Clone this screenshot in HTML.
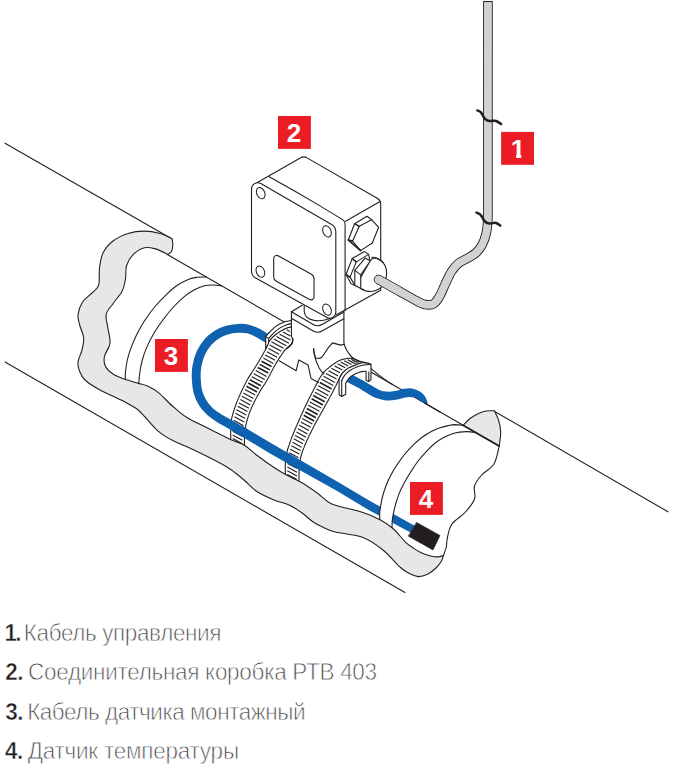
<!DOCTYPE html>
<html lang="ru">
<head>
<meta charset="utf-8">
<title>Схема монтажа датчика температуры</title>
<style>
html,body{margin:0;padding:0;background:#fff;}
body{width:676px;height:773px;position:relative;overflow:hidden;font-family:"Liberation Sans",sans-serif;}
svg{position:absolute;left:0;top:0;display:block;}
.lbl{font-family:"Liberation Sans",sans-serif;font-weight:bold;font-size:26px;fill:#fff;text-anchor:middle;}
ol{list-style:none;margin:0;padding:0;}
li{position:absolute;left:0;width:676px;height:40px;font-size:22.5px;line-height:40px;color:#454548;white-space:nowrap;}
li b,li span{position:absolute;top:0;display:block;transform:scaleY(1.1);transform-origin:0 27.6px;}
li span{-webkit-text-stroke:0.7px #fff;}
li b{color:#231f20;font-weight:bold;-webkit-text-stroke:0.45px #fff;}
</style>
</head>
<body>
<svg width="676" height="773" viewBox="0 0 676 773" stroke-linecap="round" stroke-linejoin="round">
<path d="M5 143.3L172.1 238.9" fill="none" stroke="#231f20" stroke-width="1.1" />
<path d="M5 362L405 592.5" fill="none" stroke="#231f20" stroke-width="1.1" />
<path d="M494.3 411.2L668 511.8" fill="none" stroke="#231f20" stroke-width="1.1" />
<path d="M167.7 254.7L286 323" fill="none" stroke="#231f20" stroke-width="1.1" />
<path d="M366 369.2L499.2 446" fill="none" stroke="#231f20" stroke-width="1.1" />
<path d="M206.5 277C204.9 277.1 199.9 276.9 197 277.3C194.1 277.7 192.1 277.9 188.8 279.3C185.5 280.7 180.7 283 177 285.5C173.3 288 170.3 290.8 166.6 294.3C162.9 297.8 158.7 302.1 155 306.5C151.3 310.9 147.4 316.4 144.4 321C141.4 325.6 139.2 329.6 137 334C134.8 338.4 132.7 343.3 131.1 347.6C129.5 351.9 128.2 355.9 127.3 360C126.4 364.1 125.8 368.8 125.5 372C125.2 375.2 125.3 378.1 125.3 379.3" fill="none" stroke="#231f20" stroke-width="1.1" />
<path d="M222 286C220.5 285.8 215.9 285 213 285C210.1 285 207.5 285 204.3 285.8C201.1 286.6 197.3 288.2 194 290C190.7 291.8 187.8 293.7 184.3 296.6C180.8 299.5 176.7 303.4 173 307.5C169.3 311.6 165.3 316.6 162.1 321C158.8 325.4 156.1 329.6 153.5 334C150.9 338.4 148.5 343.3 146.6 347.6C144.7 351.9 143.4 355.9 142.3 360C141.2 364.1 140.5 368.1 139.9 372C139.3 375.9 139 381.4 138.8 383.3" fill="none" stroke="#231f20" stroke-width="1.1" />
<path d="M291.6 326.8L291.4 326.8L291.2 326.9L291 326.9L290.8 327L290.5 327L290.2 327L289.9 327.1L289.6 327.2L289.2 327.2L288.9 327.3L288.5 327.4L288.2 327.5L287.8 327.6L287.5 327.7L287.1 327.8L286.8 327.9L286.5 328L286.1 328.2L285.8 328.3L285.4 328.5L285.1 328.6L284.7 328.8L284.3 329L284 329.2L283.6 329.4L283.2 329.6L282.8 329.8L282.5 330L282.1 330.2L281.7 330.4L281.3 330.7L280.9 330.9L280.5 331.1L280.1 331.4L279.7 331.7L279.3 331.9L278.8 332.2L278.4 332.5L278 332.8L277.5 333.1L277.1 333.4L276.7 333.7L276.2 334.1L275.8 334.4L275.4 334.7L275 335L274.6 335.4L274.2 335.7L273.8 336L273.4 336.4L273.1 336.7L272.7 337.1L272.3 337.4L271.9 337.8L271.6 338.1L271.2 338.5L270.9 338.9L270.5 339.2L270.2 339.6L269.9 340L269.6 340.4L269.3 340.8L269 341.2L268.7 341.6L268.5 342L268.2 342.4L268 342.8L267.9 343.2L267.7 343.6L267.6 344L267.5 344.4L267.3 344.8L267.2 345.3L267 345.7L266.9 346.2L266.7 346.7L266.5 347.2L266.3 347.8L266 348.4L265.7 349L265.4 349.7L265 350.4L264.6 351.2L264.1 352L263.7 352.8L263.2 353.7L262.7 354.6L262.2 355.5L261.7 356.4L261.2 357.3L260.6 358.2L260.1 359L259.7 359.9L259.2 360.7L258.7 361.5L258.3 362.2L257.9 362.9L257.5 363.6L257.1 364.2L256.7 364.8L256.4 365.4L256 366L255.6 366.6L255.3 367.1L254.9 367.7L254.6 368.2L254.2 368.8L253.9 369.3L253.5 369.9L253.2 370.4L252.8 370.9L252.5 371.5L252.2 372L251.8 372.6L251.5 373.1L251.2 373.6L250.8 374.1L250.5 374.6L250.2 375.1L249.9 375.6L249.5 376.1L249.2 376.6L248.9 377.1L248.6 377.7L248.2 378.2L247.9 378.8L247.5 379.4L247.2 380L246.8 380.6L246.5 381.3L246.1 382L245.7 382.7L245.4 383.4L245 384.2L244.6 384.9L244.2 385.7L243.9 386.5L243.5 387.2L243.1 388L242.7 388.8L242.4 389.5L242 390.3L241.6 391.1L241.3 391.8L241 392.5L240.6 393.3L240.3 394L240 394.8L239.6 395.5L239.3 396.2L239 397L238.7 397.7L238.3 398.4L238 399.2L237.7 399.9L237.4 400.6L237.1 401.4L236.9 402.1L236.6 402.8L236.3 403.5L236 404.2L235.8 404.9L235.5 405.6L235.3 406.3L235 407L234.8 407.7L234.5 408.4L234.3 409.1L234.1 409.8L233.9 410.5L233.6 411.2L233.4 411.8L233.2 412.5L233.1 413.1L232.9 413.8L232.7 414.4L232.5 415L232.4 415.6L232.2 416.2L232.1 416.8L232 417.3L231.8 417.9L231.7 418.4L231.6 419L231.5 419.5L231.4 420L231.3 420.6L231.2 421.1L231.1 421.7L231 422.3L231 422.9L230.9 423.5L230.8 424.1L230.8 424.8L230.8 425.4L230.7 426.1L230.7 426.8L230.7 427.5L230.7 428.2L230.7 428.9L230.7 429.6L230.7 430.3L230.7 430.9L230.7 431.6L230.7 432.3L230.7 433L230.7 433.7L230.7 434.3L230.7 435L230.7 435.6L230.7 436.3L230.7 437L230.7 437.7L230.7 438.4L230.7 439.1L230.7 439.8L230.7 440.5L230.7 441.1L230.7 441.7L230.7 442.3L230.7 442.8L230.7 443.3L230.7 443.7L230.7 444L244.5 449L244.5 448.6L244.5 448.1L244.5 447.6L244.5 447L244.5 446.3L244.5 445.6L244.5 444.8L244.5 444.1L244.5 443.3L244.4 442.5L244.4 441.7L244.5 440.9L244.5 440.1L244.5 439.4L244.5 438.7L244.5 438L244.5 437.4L244.5 436.8L244.6 436.2L244.6 435.6L244.6 435L244.7 434.4L244.7 433.9L244.7 433.3L244.8 432.8L244.8 432.2L244.9 431.7L244.9 431.1L245 430.6L245 430L245.1 429.5L245.2 428.9L245.3 428.3L245.4 427.8L245.5 427.2L245.6 426.6L245.7 426.1L245.8 425.5L245.9 425L246 424.4L246.2 423.8L246.3 423.3L246.5 422.7L246.6 422.2L246.7 421.6L246.9 421L247 420.5L247.2 419.9L247.4 419.3L247.5 418.8L247.7 418.2L247.9 417.7L248 417.1L248.2 416.6L248.4 416L248.6 415.5L248.8 414.9L248.9 414.3L249.2 413.8L249.4 413.2L249.6 412.6L249.8 412L250.1 411.4L250.3 410.8L250.6 410.2L250.8 409.5L251.1 408.9L251.4 408.2L251.7 407.5L252 406.8L252.3 406.1L252.7 405.4L253 404.7L253.3 404L253.6 403.3L254 402.6L254.3 401.9L254.6 401.2L255 400.6L255.3 399.9L255.6 399.3L256 398.6L256.3 398L256.6 397.4L257 396.7L257.3 396.1L257.6 395.5L258 394.9L258.3 394.3L258.7 393.7L259 393.1L259.4 392.5L259.7 391.8L260.1 391.2L260.4 390.6L260.8 390L261.2 389.4L261.5 388.8L261.9 388.2L262.3 387.6L262.7 387L263.1 386.4L263.5 385.8L263.9 385.2L264.3 384.6L264.7 384L265.1 383.3L265.5 382.7L265.9 382.1L266.3 381.4L266.7 380.7L267.1 380L267.5 379.3L267.9 378.5L268.4 377.7L268.8 376.9L269.2 376.1L269.7 375.2L270.1 374.4L270.6 373.5L271 372.6L271.4 371.8L271.9 371L272.3 370.1L272.7 369.3L273.1 368.6L273.5 367.8L273.9 367.1L274.3 366.4L274.7 365.8L275 365.1L275.4 364.5L275.7 363.9L276.1 363.3L276.4 362.7L276.8 362.2L277.1 361.6L277.4 361.1L277.7 360.5L278.1 360L278.4 359.5L278.7 358.9L279.1 358.4L279.4 357.9L279.7 357.4L280.1 356.9L280.4 356.3L280.8 355.8L281.1 355.3L281.5 354.8L281.8 354.3L282.2 353.8L282.5 353.3L282.8 352.9L283.2 352.4L283.5 352L283.8 351.6L284.1 351.2L284.3 350.8L284.6 350.5L284.8 350.2L285.1 349.9L285.3 349.7L285.5 349.5L285.6 349.3L285.8 349.1L286 348.9L286.1 348.8L286.3 348.6L286.4 348.5L286.6 348.3L286.8 348.2L286.9 348L287.1 347.9L287.3 347.7L287.5 347.5L287.7 347.3L288 347.1L288.2 346.9L288.5 346.6L288.7 346.4L289 346.2L289.3 346L289.6 345.7L289.8 345.5L290.1 345.3L290.3 345L290.6 344.8L290.8 344.5L291 344.3L291.2 344L291.4 343.8L291.6 343.6L291.7 343.3L291.8 343.1L292 342.8L292.1 342.6L292.2 342.3L292.3 342.1L292.3 341.8L292.4 341.6L292.5 341.3L292.5 341L292.6 340.7L292.6 340.5L292.7 340.1L292.7 339.8L292.7 339.5L292.7 339.2L292.7 338.8L292.7 338.4L292.6 338L292.6 337.6L292.5 337.2L292.4 336.8L292.3 336.4L292.3 335.9L292.2 335.5L292.1 335.1L292 334.7L292 334.2L291.9 333.8L291.8 333.4L291.8 333L291.8 332.6L291.7 332.2L291.7 331.7L291.7 331.3L291.7 330.8L291.7 330.4L291.7 329.9L291.6 329.5L291.6 329.1L291.6 328.7L291.6 328.3L291.6 327.9L291.6 327.6L291.6 327.3L291.6 327L291.6 326.8Z" fill="#fff" stroke="none"/>
<path d="M291.6 326.8L291.4 326.8L291.2 326.9L291 326.9L290.8 327L290.5 327L290.2 327L289.9 327.1L289.6 327.2L289.2 327.2L288.9 327.3L288.5 327.4L288.2 327.5L287.8 327.6L287.5 327.7L287.1 327.8L286.8 327.9L286.5 328L286.1 328.2L285.8 328.3L285.4 328.5L285.1 328.6L284.7 328.8L284.3 329L284 329.2L283.6 329.4L283.2 329.6L282.8 329.8L282.5 330L282.1 330.2L281.7 330.4L281.3 330.7L280.9 330.9L280.5 331.1L280.1 331.4L279.7 331.7L279.3 331.9L278.8 332.2L278.4 332.5L278 332.8L277.5 333.1L277.1 333.4L276.7 333.7L276.2 334.1L275.8 334.4L275.4 334.7L275 335L274.6 335.4L274.2 335.7L273.8 336L273.4 336.4L273.1 336.7L272.7 337.1L272.3 337.4L271.9 337.8L271.6 338.1L271.2 338.5L270.9 338.9L270.5 339.2L270.2 339.6L269.9 340L269.6 340.4L269.3 340.8L269 341.2L268.7 341.6L268.5 342L268.2 342.4L268 342.8L267.9 343.2L267.7 343.6L267.6 344L267.5 344.4L267.3 344.8L267.2 345.3L267 345.7L266.9 346.2L266.7 346.7L266.5 347.2L266.3 347.8L266 348.4L265.7 349L265.4 349.7L265 350.4L264.6 351.2L264.1 352L263.7 352.8L263.2 353.7L262.7 354.6L262.2 355.5L261.7 356.4L261.2 357.3L260.6 358.2L260.1 359L259.7 359.9L259.2 360.7L258.7 361.5L258.3 362.2L257.9 362.9L257.5 363.6L257.1 364.2L256.7 364.8L256.4 365.4L256 366L255.6 366.6L255.3 367.1L254.9 367.7L254.6 368.2L254.2 368.8L253.9 369.3L253.5 369.9L253.2 370.4L252.8 370.9L252.5 371.5L252.2 372L251.8 372.6L251.5 373.1L251.2 373.6L250.8 374.1L250.5 374.6L250.2 375.1L249.9 375.6L249.5 376.1L249.2 376.6L248.9 377.1L248.6 377.7L248.2 378.2L247.9 378.8L247.5 379.4L247.2 380L246.8 380.6L246.5 381.3L246.1 382L245.7 382.7L245.4 383.4L245 384.2L244.6 384.9L244.2 385.7L243.9 386.5L243.5 387.2L243.1 388L242.7 388.8L242.4 389.5L242 390.3L241.6 391.1L241.3 391.8L241 392.5L240.6 393.3L240.3 394L240 394.8L239.6 395.5L239.3 396.2L239 397L238.7 397.7L238.3 398.4L238 399.2L237.7 399.9L237.4 400.6L237.1 401.4L236.9 402.1L236.6 402.8L236.3 403.5L236 404.2L235.8 404.9L235.5 405.6L235.3 406.3L235 407L234.8 407.7L234.5 408.4L234.3 409.1L234.1 409.8L233.9 410.5L233.6 411.2L233.4 411.8L233.2 412.5L233.1 413.1L232.9 413.8L232.7 414.4L232.5 415L232.4 415.6L232.2 416.2L232.1 416.8L232 417.3L231.8 417.9L231.7 418.4L231.6 419L231.5 419.5L231.4 420L231.3 420.6L231.2 421.1L231.1 421.7L231 422.3L231 422.9L230.9 423.5L230.8 424.1L230.8 424.8L230.8 425.4L230.7 426.1L230.7 426.8L230.7 427.5L230.7 428.2L230.7 428.9L230.7 429.6L230.7 430.3L230.7 430.9L230.7 431.6L230.7 432.3L230.7 433L230.7 433.7L230.7 434.3L230.7 435L230.7 435.6L230.7 436.3L230.7 437L230.7 437.7L230.7 438.4L230.7 439.1L230.7 439.8L230.7 440.5L230.7 441.1L230.7 441.7L230.7 442.3L230.7 442.8L230.7 443.3L230.7 443.7L230.7 444" fill="none" stroke="#231f20" stroke-width="1.1" />
<path d="M291.6 326.8L291.6 327L291.6 327.3L291.6 327.6L291.6 327.9L291.6 328.3L291.6 328.7L291.6 329.1L291.6 329.5L291.7 329.9L291.7 330.4L291.7 330.8L291.7 331.3L291.7 331.7L291.7 332.2L291.8 332.6L291.8 333L291.8 333.4L291.9 333.8L292 334.2L292 334.7L292.1 335.1L292.2 335.5L292.3 335.9L292.3 336.4L292.4 336.8L292.5 337.2L292.6 337.6L292.6 338L292.7 338.4L292.7 338.8L292.7 339.2L292.7 339.5L292.7 339.8L292.7 340.1L292.6 340.5L292.6 340.7L292.5 341L292.5 341.3L292.4 341.6L292.3 341.8L292.3 342.1L292.2 342.3L292.1 342.6L292 342.8L291.8 343.1L291.7 343.3L291.6 343.6L291.4 343.8L291.2 344L291 344.3L290.8 344.5L290.6 344.8L290.3 345L290.1 345.3L289.8 345.5L289.6 345.7L289.3 346L289 346.2L288.7 346.4L288.5 346.6L288.2 346.9L288 347.1L287.7 347.3L287.5 347.5L287.3 347.7L287.1 347.9L286.9 348L286.8 348.2L286.6 348.3L286.4 348.5L286.3 348.6L286.1 348.8L286 348.9L285.8 349.1L285.6 349.3L285.5 349.5L285.3 349.7L285.1 349.9L284.8 350.2L284.6 350.5L284.3 350.8L284.1 351.2L283.8 351.6L283.5 352L283.2 352.4L282.8 352.9L282.5 353.3L282.2 353.8L281.8 354.3L281.5 354.8L281.1 355.3L280.8 355.8L280.4 356.3L280.1 356.9L279.7 357.4L279.4 357.9L279.1 358.4L278.7 358.9L278.4 359.5L278.1 360L277.7 360.5L277.4 361.1L277.1 361.6L276.8 362.2L276.4 362.7L276.1 363.3L275.7 363.9L275.4 364.5L275 365.1L274.7 365.8L274.3 366.4L273.9 367.1L273.5 367.8L273.1 368.6L272.7 369.3L272.3 370.1L271.9 371L271.4 371.8L271 372.6L270.6 373.5L270.1 374.4L269.7 375.2L269.2 376.1L268.8 376.9L268.4 377.7L267.9 378.5L267.5 379.3L267.1 380L266.7 380.7L266.3 381.4L265.9 382.1L265.5 382.7L265.1 383.3L264.7 384L264.3 384.6L263.9 385.2L263.5 385.8L263.1 386.4L262.7 387L262.3 387.6L261.9 388.2L261.5 388.8L261.2 389.4L260.8 390L260.4 390.6L260.1 391.2L259.7 391.8L259.4 392.5L259 393.1L258.7 393.7L258.3 394.3L258 394.9L257.6 395.5L257.3 396.1L257 396.7L256.6 397.4L256.3 398L256 398.6L255.6 399.3L255.3 399.9L255 400.6L254.6 401.2L254.3 401.9L254 402.6L253.6 403.3L253.3 404L253 404.7L252.7 405.4L252.3 406.1L252 406.8L251.7 407.5L251.4 408.2L251.1 408.9L250.8 409.5L250.6 410.2L250.3 410.8L250.1 411.4L249.8 412L249.6 412.6L249.4 413.2L249.2 413.8L248.9 414.3L248.8 414.9L248.6 415.5L248.4 416L248.2 416.6L248 417.1L247.9 417.7L247.7 418.2L247.5 418.8L247.4 419.3L247.2 419.9L247 420.5L246.9 421L246.7 421.6L246.6 422.2L246.5 422.7L246.3 423.3L246.2 423.8L246 424.4L245.9 425L245.8 425.5L245.7 426.1L245.6 426.6L245.5 427.2L245.4 427.8L245.3 428.3L245.2 428.9L245.1 429.5L245 430L245 430.6L244.9 431.1L244.9 431.7L244.8 432.2L244.8 432.8L244.7 433.3L244.7 433.9L244.7 434.4L244.6 435L244.6 435.6L244.6 436.2L244.5 436.8L244.5 437.4L244.5 438L244.5 438.7L244.5 439.4L244.5 440.1L244.5 440.9L244.4 441.7L244.4 442.5L244.5 443.3L244.5 444.1L244.5 444.8L244.5 445.6L244.5 446.3L244.5 447L244.5 447.6L244.5 448.1L244.5 448.6L244.5 449" fill="none" stroke="#231f20" stroke-width="1.1" />
<path d="M286.8 329.8L289.7 331.4M283 331.9L290.4 335.9M279.6 334.2L290.5 340.1M276.5 336.6L288.9 343.3M273.8 339L286.2 345.7M271.4 341.7L283.5 348.3M269.7 344.9L281.3 351.2M268.5 348.4L279.1 354.2M266.9 351.7L277.1 357.2M265.1 354.9L275.2 360.3M263.3 358.1L273.3 363.5M255.8 370.6L266.5 376.4M253.8 373.7L264.7 379.5M251.8 376.7L262.8 382.6M244.9 389.6L255.2 395.1M243.3 392.9L253.5 398.4M241.8 396.2L251.9 401.6M240.4 399.5L250.3 404.9M239 402.9L248.9 408.3M237.7 406.3L247.5 411.6M236.5 409.8L246.3 415.1M235.4 413.3L245.2 418.6M234.4 416.8L244.3 422.1M233.6 420.3L243.5 425.7M233 423.9L243 429.3M232.7 427.6L242.7 432.9M232.7 431.2L242.5 436.5M232.7 434.9L242.4 440.2M232.7 438.6L242.4 443.8M232.7 442.2L242.5 447.5" fill="none" stroke="#231f20" stroke-width="1.12" stroke-linecap="butt"/>
<path d="M261.5 361.2L271.5 366.6M259.7 364.4L269.8 369.9M257.8 367.5L268.2 373.1M249.9 379.8L260.8 385.7M248.2 383L258.8 388.8M246.5 386.3L257 391.9" fill="none" stroke="#231f20" stroke-width="1.65" stroke-linecap="butt"/>
<path d="M366 362.6L365.7 362.5L365.4 362.5L365.1 362.4L364.7 362.3L364.2 362.2L363.7 362.1L363.2 362L362.7 361.9L362.2 361.8L361.7 361.7L361.2 361.6L360.7 361.4L360.2 361.3L359.8 361.2L359.4 361.1L359 361L358.7 360.9L358.4 360.8L358.2 360.7L357.9 360.6L357.7 360.5L357.5 360.4L357.4 360.3L357.2 360.2L357 360.1L356.9 360L356.7 359.9L356.5 359.8L356.3 359.7L356 359.6L355.8 359.5L355.5 359.4L355.2 359.3L354.9 359.2L354.6 359.1L354.2 359L353.9 358.9L353.5 358.8L353.2 358.7L352.8 358.6L352.4 358.5L352 358.4L351.6 358.4L351.2 358.3L350.7 358.3L350.3 358.3L349.8 358.3L349.3 358.3L348.8 358.3L348.2 358.4L347.7 358.5L347.1 358.5L346.5 358.6L345.8 358.7L345.2 358.8L344.6 359L343.9 359.1L343.3 359.3L342.6 359.4L342 359.6L341.3 359.8L340.7 360L340.1 360.3L339.5 360.5L338.9 360.8L338.3 361L337.8 361.3L337.2 361.6L336.6 362L336.1 362.3L335.5 362.6L335 363L334.4 363.4L333.9 363.8L333.3 364.2L332.8 364.6L332.2 365L331.7 365.4L331.1 365.9L330.6 366.3L330.1 366.7L329.5 367.2L329 367.6L328.4 368.1L327.9 368.5L327.3 368.9L326.8 369.4L326.2 369.9L325.7 370.4L325.1 370.9L324.6 371.5L324.1 372L323.5 372.6L323 373.3L322.4 374L321.9 374.7L321.4 375.5L320.8 376.3L320.3 377.2L319.7 378.1L319.2 379L318.7 380L318.1 381L317.6 382L317.1 383L316.5 384.1L316 385.1L315.5 386.2L314.9 387.2L314.4 388.2L313.9 389.2L313.4 390.2L312.9 391.2L312.4 392.1L311.9 393.1L311.4 394L310.9 395L310.4 395.9L309.9 396.9L309.4 397.8L309 398.8L308.5 399.8L308 400.7L307.5 401.7L307 402.7L306.6 403.7L306.1 404.7L305.6 405.7L305.1 406.7L304.6 407.8L304.1 408.8L303.7 409.9L303.2 410.9L302.7 412L302.2 413.1L301.7 414.2L301.2 415.2L300.7 416.3L300.3 417.4L299.8 418.5L299.3 419.6L298.8 420.7L298.4 421.7L297.9 422.8L297.4 423.9L297 425L296.5 426.1L296 427.1L295.6 428.2L295.1 429.3L294.6 430.4L294.2 431.5L293.7 432.6L293.3 433.7L292.9 434.8L292.5 435.8L292 436.9L291.6 437.9L291.3 438.9L290.9 439.9L290.5 440.9L290.2 441.8L289.9 442.8L289.5 443.7L289.2 444.7L288.9 445.6L288.6 446.5L288.3 447.4L288.1 448.3L287.8 449.1L287.5 450L287.3 450.8L287.1 451.6L286.9 452.4L286.7 453.2L286.5 453.9L286.3 454.6L286.2 455.2L286.1 455.9L286 456.4L285.9 457L285.8 457.5L285.7 458L285.7 458.5L285.6 459L285.6 459.5L285.6 460L285.5 460.6L285.5 461.2L285.5 461.8L285.4 462.5L285.4 463.2L285.4 464L285.3 464.9L285.3 465.8L285.3 466.9L285.3 467.9L285.3 469L285.3 470.1L285.3 471.2L285.3 472.3L285.4 473.3L285.4 474.3L285.4 475.2L285.4 476.1L285.4 476.8L285.4 477.5L285.4 478L298.9 485L298.9 484.3L298.9 483.5L298.9 482.6L298.9 481.5L299 480.3L299 479.1L299 477.8L299 476.4L299 475.1L299.1 473.7L299.1 472.3L299.1 471L299.2 469.7L299.2 468.5L299.3 467.3L299.4 466.3L299.5 465.4L299.6 464.5L299.7 463.6L299.8 462.8L299.9 462L300 461.3L300.1 460.5L300.2 459.8L300.4 459.1L300.5 458.4L300.7 457.7L300.9 457L301 456.2L301.2 455.5L301.5 454.7L301.7 453.9L302 453.1L302.2 452.2L302.5 451.4L302.8 450.6L303.1 449.7L303.4 448.8L303.8 448L304.1 447.1L304.5 446.2L304.8 445.3L305.2 444.4L305.6 443.6L306 442.6L306.4 441.7L306.8 440.8L307.2 439.9L307.6 439L308.1 438L308.5 437.1L308.9 436.1L309.4 435.1L309.9 434.2L310.4 433.2L310.9 432.2L311.4 431.2L311.8 430.2L312.4 429.2L312.9 428.2L313.4 427.2L313.9 426.3L314.4 425.3L314.9 424.3L315.4 423.3L315.9 422.3L316.5 421.4L317 420.4L317.6 419.4L318.1 418.4L318.6 417.4L319.2 416.5L319.8 415.5L320.3 414.5L320.8 413.5L321.4 412.6L321.9 411.6L322.5 410.7L323 409.7L323.5 408.8L324 407.9L324.5 407L325 406.1L325.5 405.2L326 404.3L326.5 403.4L327 402.5L327.5 401.6L328 400.7L328.5 399.9L328.9 399L329.4 398.2L329.9 397.3L330.3 396.5L330.8 395.6L331.2 394.8L331.6 394L332.1 393.2L332.5 392.3L332.9 391.5L333.3 390.7L333.7 389.9L334.1 389.1L334.5 388.3L334.9 387.5L335.3 386.7L335.7 386L336.1 385.2L336.4 384.5L336.8 383.8L337.2 383.1L337.5 382.4L337.8 381.7L338.2 381.1L338.5 380.4L338.8 379.8L339 379.2L339.3 378.6L339.6 378L339.9 377.5L340.1 376.9L340.4 376.4L340.7 375.8L341 375.3L341.2 374.8L341.6 374.3L341.9 373.9L342.2 373.4L342.5 373L342.9 372.5L343.3 372.1L343.6 371.8L344 371.4L344.4 371L344.8 370.7L345.1 370.4L345.5 370.1L345.9 369.8L346.3 369.5L346.8 369.2L347.2 368.9L347.6 368.6L348 368.4L348.4 368.1L348.8 367.8L349.2 367.6L349.7 367.4L350.1 367.2L350.6 366.9L351 366.7L351.4 366.5L351.9 366.4L352.3 366.2L352.8 366L353.3 365.8L353.7 365.7L354.2 365.5L354.6 365.3L355.1 365.2L355.5 365L355.9 364.8L356.4 364.7L356.8 364.5L357.3 364.3L357.7 364.1L358.2 363.9L358.6 363.8L359.1 363.6L359.5 363.4L359.9 363.3L360.4 363.2L360.8 363L361.3 362.9L361.7 362.8L362.2 362.8L362.6 362.7L363.1 362.7L363.5 362.7L364 362.7L364.5 362.7L365.1 362.8L365.6 362.8L366.1 362.9L366.6 363L367.1 363.1L367.6 363.2L368 363.3L368.4 363.4L368.8 363.4L369.2 363.5L369.5 363.6L369.7 363.6Z" fill="#fff" stroke="none"/>
<path d="M366 362.6L365.7 362.5L365.4 362.5L365.1 362.4L364.7 362.3L364.2 362.2L363.7 362.1L363.2 362L362.7 361.9L362.2 361.8L361.7 361.7L361.2 361.6L360.7 361.4L360.2 361.3L359.8 361.2L359.4 361.1L359 361L358.7 360.9L358.4 360.8L358.2 360.7L357.9 360.6L357.7 360.5L357.5 360.4L357.4 360.3L357.2 360.2L357 360.1L356.9 360L356.7 359.9L356.5 359.8L356.3 359.7L356 359.6L355.8 359.5L355.5 359.4L355.2 359.3L354.9 359.2L354.6 359.1L354.2 359L353.9 358.9L353.5 358.8L353.2 358.7L352.8 358.6L352.4 358.5L352 358.4L351.6 358.4L351.2 358.3L350.7 358.3L350.3 358.3L349.8 358.3L349.3 358.3L348.8 358.3L348.2 358.4L347.7 358.5L347.1 358.5L346.5 358.6L345.8 358.7L345.2 358.8L344.6 359L343.9 359.1L343.3 359.3L342.6 359.4L342 359.6L341.3 359.8L340.7 360L340.1 360.3L339.5 360.5L338.9 360.8L338.3 361L337.8 361.3L337.2 361.6L336.6 362L336.1 362.3L335.5 362.6L335 363L334.4 363.4L333.9 363.8L333.3 364.2L332.8 364.6L332.2 365L331.7 365.4L331.1 365.9L330.6 366.3L330.1 366.7L329.5 367.2L329 367.6L328.4 368.1L327.9 368.5L327.3 368.9L326.8 369.4L326.2 369.9L325.7 370.4L325.1 370.9L324.6 371.5L324.1 372L323.5 372.6L323 373.3L322.4 374L321.9 374.7L321.4 375.5L320.8 376.3L320.3 377.2L319.7 378.1L319.2 379L318.7 380L318.1 381L317.6 382L317.1 383L316.5 384.1L316 385.1L315.5 386.2L314.9 387.2L314.4 388.2L313.9 389.2L313.4 390.2L312.9 391.2L312.4 392.1L311.9 393.1L311.4 394L310.9 395L310.4 395.9L309.9 396.9L309.4 397.8L309 398.8L308.5 399.8L308 400.7L307.5 401.7L307 402.7L306.6 403.7L306.1 404.7L305.6 405.7L305.1 406.7L304.6 407.8L304.1 408.8L303.7 409.9L303.2 410.9L302.7 412L302.2 413.1L301.7 414.2L301.2 415.2L300.7 416.3L300.3 417.4L299.8 418.5L299.3 419.6L298.8 420.7L298.4 421.7L297.9 422.8L297.4 423.9L297 425L296.5 426.1L296 427.1L295.6 428.2L295.1 429.3L294.6 430.4L294.2 431.5L293.7 432.6L293.3 433.7L292.9 434.8L292.5 435.8L292 436.9L291.6 437.9L291.3 438.9L290.9 439.9L290.5 440.9L290.2 441.8L289.9 442.8L289.5 443.7L289.2 444.7L288.9 445.6L288.6 446.5L288.3 447.4L288.1 448.3L287.8 449.1L287.5 450L287.3 450.8L287.1 451.6L286.9 452.4L286.7 453.2L286.5 453.9L286.3 454.6L286.2 455.2L286.1 455.9L286 456.4L285.9 457L285.8 457.5L285.7 458L285.7 458.5L285.6 459L285.6 459.5L285.6 460L285.5 460.6L285.5 461.2L285.5 461.8L285.4 462.5L285.4 463.2L285.4 464L285.3 464.9L285.3 465.8L285.3 466.9L285.3 467.9L285.3 469L285.3 470.1L285.3 471.2L285.3 472.3L285.4 473.3L285.4 474.3L285.4 475.2L285.4 476.1L285.4 476.8L285.4 477.5L285.4 478" fill="none" stroke="#231f20" stroke-width="1.1" />
<path d="M369.7 363.6L369.5 363.6L369.2 363.5L368.8 363.4L368.4 363.4L368 363.3L367.6 363.2L367.1 363.1L366.6 363L366.1 362.9L365.6 362.8L365.1 362.8L364.5 362.7L364 362.7L363.5 362.7L363.1 362.7L362.6 362.7L362.2 362.8L361.7 362.8L361.3 362.9L360.8 363L360.4 363.2L359.9 363.3L359.5 363.4L359.1 363.6L358.6 363.8L358.2 363.9L357.7 364.1L357.3 364.3L356.8 364.5L356.4 364.7L355.9 364.8L355.5 365L355.1 365.2L354.6 365.3L354.2 365.5L353.7 365.7L353.3 365.8L352.8 366L352.3 366.2L351.9 366.4L351.4 366.5L351 366.7L350.6 366.9L350.1 367.2L349.7 367.4L349.2 367.6L348.8 367.8L348.4 368.1L348 368.4L347.6 368.6L347.2 368.9L346.8 369.2L346.3 369.5L345.9 369.8L345.5 370.1L345.1 370.4L344.8 370.7L344.4 371L344 371.4L343.6 371.8L343.3 372.1L342.9 372.5L342.5 373L342.2 373.4L341.9 373.9L341.6 374.3L341.2 374.8L341 375.3L340.7 375.8L340.4 376.4L340.1 376.9L339.9 377.5L339.6 378L339.3 378.6L339 379.2L338.8 379.8L338.5 380.4L338.2 381.1L337.8 381.7L337.5 382.4L337.2 383.1L336.8 383.8L336.4 384.5L336.1 385.2L335.7 386L335.3 386.7L334.9 387.5L334.5 388.3L334.1 389.1L333.7 389.9L333.3 390.7L332.9 391.5L332.5 392.3L332.1 393.2L331.6 394L331.2 394.8L330.8 395.6L330.3 396.5L329.9 397.3L329.4 398.2L328.9 399L328.5 399.9L328 400.7L327.5 401.6L327 402.5L326.5 403.4L326 404.3L325.5 405.2L325 406.1L324.5 407L324 407.9L323.5 408.8L323 409.7L322.5 410.7L321.9 411.6L321.4 412.6L320.8 413.5L320.3 414.5L319.8 415.5L319.2 416.5L318.6 417.4L318.1 418.4L317.6 419.4L317 420.4L316.5 421.4L315.9 422.3L315.4 423.3L314.9 424.3L314.4 425.3L313.9 426.3L313.4 427.2L312.9 428.2L312.4 429.2L311.8 430.2L311.4 431.2L310.9 432.2L310.4 433.2L309.9 434.2L309.4 435.1L308.9 436.1L308.5 437.1L308.1 438L307.6 439L307.2 439.9L306.8 440.8L306.4 441.7L306 442.6L305.6 443.6L305.2 444.4L304.8 445.3L304.5 446.2L304.1 447.1L303.8 448L303.4 448.8L303.1 449.7L302.8 450.6L302.5 451.4L302.2 452.2L302 453.1L301.7 453.9L301.5 454.7L301.2 455.5L301 456.2L300.9 457L300.7 457.7L300.5 458.4L300.4 459.1L300.2 459.8L300.1 460.5L300 461.3L299.9 462L299.8 462.8L299.7 463.6L299.6 464.5L299.5 465.4L299.4 466.3L299.3 467.3L299.2 468.5L299.2 469.7L299.1 471L299.1 472.3L299.1 473.7L299 475.1L299 476.4L299 477.8L299 479.1L299 480.3L298.9 481.5L298.9 482.6L298.9 483.5L298.9 484.3L298.9 485" fill="none" stroke="#231f20" stroke-width="1.1" />
<path d="M356.5 360.2L359.5 361.8M351.5 359.4L357.2 362.5M347.8 359.8L354.6 363.5M344.2 360.7L351.5 364.6M340.7 361.9L348.2 366M337.6 363.7L345.2 367.8M334.6 365.9L342.3 370M331.5 368.3L339.9 372.7M328.6 370.7L338.1 375.9M325.9 373.4L336.5 379.1M323.6 376.2L334.9 382.4M321.7 379.3L333.3 385.6M318.2 385.8L330 392.1M316.6 389L328.3 395.4M314.9 392.3L326.5 398.6M309.9 402L321.2 408.1M308.3 405.3L319.5 411.3M302.2 418.6L312.4 424.1M300.8 422L310.7 427.3M299.3 425.3L309.1 430.6M297.9 428.7L307.5 433.9M296.5 432.1L305.9 437.2M295.1 435.4L304.4 440.5M293.7 438.8L303 443.8M292.5 442.3L301.6 447.2M291.3 445.7L300.4 450.6M290.1 449.2L299.3 454.1M289.1 452.7L298.4 457.7M288.3 456.2L297.8 461.3M287.7 459.7L297.4 465M287.5 463.4L297.2 468.6M287.4 467L297 472.3M287.3 470.7L297 475.9M287.4 474.4L296.9 479.5M287.4 478.1L296.9 483.2" fill="none" stroke="#231f20" stroke-width="1.12" stroke-linecap="butt"/>
<path d="M319.9 382.5L331.7 388.9M313.2 395.5L324.8 401.8M311.6 398.8L323 404.9M306.8 408.6L317.7 414.5M305.2 411.9L315.9 417.7M303.7 415.3L314.1 420.9" fill="none" stroke="#231f20" stroke-width="1.65" stroke-linecap="butt"/>
<path d="M350 361.3L357 364.2M351.6 359.6L358.6 362.6M353.5 358.8L360.5 361.8" fill="none" stroke="#231f20" stroke-width="0.7" />
<path d="M268.5 339.4C266.6 338.3 260.4 334.3 257 332.6C253.6 330.9 251.2 329.7 248 329C244.8 328.3 241.1 328.2 237.7 328.4C234.2 328.6 230.8 329 227.3 330C223.9 331 220.2 332.4 217 334.4C213.8 336.4 210.8 338.7 208.1 341.8C205.4 344.9 202.8 348.8 200.9 352.9C199 357 197.7 361.8 196.9 366.2C196.1 370.6 196.1 375.2 196.3 379.5C196.5 383.8 196.9 388 197.9 391.8C198.9 395.6 200.4 399 202.3 402.2C204.2 405.4 206.9 408.5 209.6 411.1C212.3 413.7 215.3 415.6 218.5 417.7C221.7 419.8 225.4 421.6 228.8 423.6C232.2 425.6 236.3 428 239.2 429.6C242.1 431.2 244.9 432.9 246 433.5" fill="none" stroke="#0f62b0" stroke-width="8.9" stroke-linecap="butt"/>
<path d="M241.6 425.6L270 442.6L338 482L370 500.9L415.5 526.3L411.5 533L370 510.8L338 491.6L270 453.4L236.8 433.6Z" fill="#0f62b0" stroke="none" stroke-width="1.1" />
<path d="M265.7 336.4C266.4 335.7 268.1 333.7 269.8 332C271.5 330.3 273.5 328 275.7 326.4C277.9 324.8 280.5 323.4 283.1 322.4C285.7 321.4 289.9 320.8 291.2 320.5L291.6 326.8C290.8 327 288.6 327.2 286.8 327.9C285 328.6 283 329.6 280.9 330.9C278.8 332.2 276.2 333.9 274.2 335.7C272.2 337.5 269.6 340.6 268.7 341.6Z" fill="#fff" stroke="none" stroke-width="1.1" />
<path d="M265.7 336.4C266.4 335.7 268.1 333.7 269.8 332C271.5 330.3 273.5 328 275.7 326.4C277.9 324.8 280.5 323.4 283.1 322.4C285.7 321.4 289.9 320.8 291.2 320.5" fill="none" stroke="#231f20" stroke-width="1.1" />
<path d="M268.7 338.6C269.5 337.7 271.6 334.9 273.5 333.1C275.4 331.3 278 329.3 280.1 327.9C282.2 326.5 284.2 325.6 286.1 324.9C288 324.2 290.7 323.7 291.6 323.5" fill="none" stroke="#231f20" stroke-width="1.1" />
<path d="M268.7 341.6C269.6 340.6 272.2 337.5 274.2 335.7C276.2 333.9 278.8 332.2 280.9 330.9C283 329.6 285 328.6 286.8 327.9C288.6 327.2 290.8 327 291.6 326.8" fill="none" stroke="#231f20" stroke-width="1.1" />
<path d="M265.7 336.4L268.7 338.6V343.1L265.7 349Z" fill="#fff" stroke="#231f20" stroke-width="1.1" />
<path d="M463 425.3C461.7 425.2 457.5 424.6 455 424.6C452.5 424.7 450.6 425.1 448.1 425.6C445.6 426.1 442.7 426.9 440 427.8C437.3 428.8 434.7 429.8 431.8 431.3C428.9 432.8 425.5 434.8 422.5 437C419.5 439.2 416.8 441.6 413.9 444.3C411 447.1 408 450.2 405.3 453.5C402.6 456.8 400.1 460.3 397.7 463.8C395.3 467.3 393.1 471 391.2 474.5C389.3 478 387.7 481.4 386.3 485C384.9 488.6 383.6 492.5 382.7 496C381.8 499.5 381.1 503.3 380.6 506.1C380.1 508.9 379.8 510.6 379.7 513C379.6 515.4 379.8 519.1 379.8 520.3L392 527.6C392.1 526.3 392 522.5 392.3 520C392.6 517.5 393 515.4 393.6 512.6C394.2 509.9 394.9 506.8 395.8 503.5C396.8 500.2 397.9 496.6 399.3 493.1C400.7 489.7 402.4 486.3 404.3 482.8C406.2 479.3 408.3 475.7 410.7 472C413.1 468.3 415.8 464 418.5 460.5C421.2 457 424.2 453.7 427 450.8C429.8 447.9 432.3 445.5 435 443.3C437.7 441.1 440.5 439.3 443.2 437.8C445.9 436.3 448.3 435.1 451 434.2C453.7 433.2 456.8 432.5 459.5 432.1C462.2 431.7 464.6 431.5 467.5 431.6C470.4 431.7 475.2 432.7 476.7 432.9Z" fill="#fff" stroke="none" stroke-width="1.1" />
<path d="M463 425.3C461.7 425.2 457.5 424.6 455 424.6C452.5 424.7 450.6 425.1 448.1 425.6C445.6 426.1 442.7 426.9 440 427.8C437.3 428.8 434.7 429.8 431.8 431.3C428.9 432.8 425.5 434.8 422.5 437C419.5 439.2 416.8 441.6 413.9 444.3C411 447.1 408 450.2 405.3 453.5C402.6 456.8 400.1 460.3 397.7 463.8C395.3 467.3 393.1 471 391.2 474.5C389.3 478 387.7 481.4 386.3 485C384.9 488.6 383.6 492.5 382.7 496C381.8 499.5 381.1 503.3 380.6 506.1C380.1 508.9 379.8 510.6 379.7 513C379.6 515.4 379.8 519.1 379.8 520.3" fill="none" stroke="#231f20" stroke-width="1.1" />
<path d="M476.7 432.9C475.2 432.7 470.4 431.7 467.5 431.6C464.6 431.5 462.2 431.7 459.5 432.1C456.8 432.5 453.7 433.2 451 434.2C448.3 435.1 445.9 436.3 443.2 437.8C440.5 439.3 437.7 441.1 435 443.3C432.3 445.5 429.8 447.9 427 450.8C424.2 453.7 421.2 457 418.5 460.5C415.8 464 413.1 468.3 410.7 472C408.3 475.7 406.2 479.3 404.3 482.8C402.4 486.3 400.7 489.7 399.3 493.1C397.9 496.6 396.8 500.2 395.8 503.5C394.9 506.8 394.2 509.9 393.6 512.6C393 515.4 392.6 517.5 392.3 520C392 522.5 392.1 526.3 392 527.6" fill="none" stroke="#231f20" stroke-width="1.1" />
<path d="M172.1 238.9C170.1 238 164.6 234.8 160 233.5C155.4 232.2 149.7 231.1 144.4 231.1C139.1 231.1 133.2 231.8 128 233.5C122.8 235.2 117.2 237.8 113 241C108.8 244.2 105.2 248.5 103 253C100.8 257.5 100.2 262.7 99.5 268C98.8 273.3 100 280.8 98.7 285C97.5 289.2 94.7 290.2 92 293C89.3 295.8 84.8 298.3 82.5 302C80.2 305.7 78.4 311 78 315C77.6 319 79 322.2 80 326C81 329.8 83.4 334 83.7 338C84 342 83 346 82 350C81 354 78.4 358.5 78 362C77.6 365.5 78.3 368 79.5 371C80.7 374 81.6 376.8 85 380C88.4 383.2 93.3 386.3 100 390C106.7 393.7 118.8 398.8 125 402C131.2 405.2 133.6 406.4 137 409C140.4 411.6 141.9 413.8 145.5 417.5C149.1 421.2 153.9 427.5 158.4 431.3C162.9 435.1 166.5 437.2 172.4 440.3C178.3 443.4 186.2 446.3 194 450C201.8 453.7 212.8 459.2 219 462.5C225.2 465.8 227.3 467.1 231.5 470C235.7 472.9 239.8 476.5 244 480C248.2 483.5 251.5 487.9 256.5 491.2C261.5 494.5 268.6 497.7 274 500C279.4 502.3 284.4 502.9 289 505C293.6 507.1 297.3 509.6 301.5 512.5C305.7 515.4 309.4 519.6 314 522.5C318.6 525.4 325 528.3 329 530C333 531.7 332.3 531.2 338 532.5C343.7 533.8 355.5 534.6 363 537.5C370.5 540.4 376.8 545 383 550C389.2 555 396 563.5 400.5 567.5C405 571.5 407.1 572.3 410 573.8C412.9 575.3 415.3 576.5 418.2 576.6C421.1 576.7 424.5 575.7 427.5 574.3C430.5 572.9 433.7 570.2 436 568C438.3 565.8 440.3 563.1 441.5 561C442.7 558.9 443.1 556.4 443.4 555.5C442.5 555.7 440.4 556.8 438.3 556.9C436.2 557 433.4 556.7 430.5 556C427.6 555.3 423.6 553.9 420.7 552.5C417.8 551.1 415.5 549.5 413 547.8C410.5 546.1 407.8 544.3 405.6 542.3C403.4 540.3 402.1 538.3 400 536C397.9 533.7 396.2 531.2 393 528.5C389.8 525.8 385.5 522.7 380.5 520C375.5 517.3 370.1 514.8 363 512.5C355.9 510.2 343.7 507.7 338 506C332.3 504.3 332.6 504.8 329 502.5C325.4 500.2 321.1 495.8 316.5 492.5C311.9 489.2 306.5 485.4 301.5 482.5C296.5 479.6 291.1 477.5 286.5 475C281.9 472.5 279 470.8 274 467.5C269 464.2 261.5 458.8 256.5 455C251.5 451.2 248.2 447.5 244 445C239.8 442.5 235.7 441.9 231.5 440C227.3 438.1 223.2 435.8 219 433.7C214.8 431.6 211.5 430 206.1 427.3C200.7 424.6 192.1 420.9 186.5 417.3C180.9 413.8 177.1 410.1 172.4 406C167.7 401.9 162.6 396 158.4 392.6C154.2 389.2 150.4 387.4 147 385.8C143.6 384.2 141.1 384.1 137.7 383.1C134.3 382.1 130.7 381.3 126.6 379.8C122.5 378.3 116.8 376.4 113.3 374.2C109.8 372 107 369.4 105.5 366.5C104 363.6 103.7 360.4 104.4 356.5C105.2 352.6 109.4 348 110 343.2C110.6 338.4 108.4 332.4 107.8 327.6C107.2 322.8 105.3 318.4 106.2 314.3C107.1 310.2 110.6 307.1 113.3 303.2C116 299.3 120.2 295.1 122.2 291C124.2 286.9 124.8 283.1 125.5 278.8C126.2 274.6 125.3 269.6 126.6 265.5C127.9 261.4 130.3 257.4 133.3 254.4C136.3 251.4 140.7 248.6 144.4 247.7C148.1 246.8 151.6 247.8 155.5 248.9C159.4 250 165.7 253.5 167.7 254.4C168.3 253.9 170.7 253.1 171.5 251.5C172.3 249.9 172.7 247.1 172.8 245C172.9 242.9 172.2 239.9 172.1 238.9Z" fill="#e6e7e8" stroke="#231f20" stroke-width="1.1" />
<path d="M443.4 555.5C443.9 554.1 445.6 550.1 446.3 547C447 543.9 446.6 540.8 447.5 537C448.4 533.2 449.1 528.1 452 524C454.9 519.9 461.2 516.7 465 512.5C468.8 508.3 472.9 503.4 474.5 499C476.1 494.6 473.3 490 474.5 486C475.7 482 478.4 478.7 481.7 475C484.9 471.3 491.1 468.8 494 464C496.9 459.2 498.3 449.2 499.2 446.2" fill="none" stroke="#231f20" stroke-width="1.1" />
<path d="M463 425.5C464.2 424.3 467.5 420.5 470 418.5C472.5 416.5 475.3 414.9 478 413.7C480.7 412.4 483.3 411.5 486 411C488.7 410.5 492.9 410.8 494.3 410.8C495 412.3 497.4 416.5 498.5 420C499.6 423.5 500.6 427.6 500.7 432C500.8 436.4 499.4 443.8 499.2 446.2L463 425.5Z" fill="#e6e7e8" stroke="#231f20" stroke-width="1.1" />
<path d="M463 425.1L499.2 446" fill="none" stroke="#231f20" stroke-width="1.5" />
<path d="M291.4 311.8L302 305L344.3 305L344.3 343L340.6 345.1L332.5 342.9L322.1 357L315.5 357L313.6 348.8L310 345L291.4 337Z" fill="#fff" stroke="none" stroke-width="1.1" />
<path d="M291.4 312V336.5C293.6 339.2 293 342.9 290.3 345.9C289 347.2 287.8 348 286.6 348.8" fill="none" stroke="#231f20" stroke-width="1.1" />
<path d="M291.4 311.8L302.3 305.3" fill="none" stroke="#231f20" stroke-width="1.1" />
<path d="M291.4 311.8L313.2 324.4Q317.6 327 322 324.6L343.9 312.1" fill="none" stroke="#231f20" stroke-width="1.1" />
<path d="M291.4 318.2L313.2 330.9Q317.6 333.5 322 331.1L343.9 318.7" fill="none" stroke="#231f20" stroke-width="1.1" />
<path d="M343.9 311V342.9C344.8 347 347.5 352.5 351.7 357C354 359 356 360 358.4 360.7" fill="none" stroke="#231f20" stroke-width="1.1" />
<path d="M343.9 344.4L340.6 345.1L332.5 342.9L328 348.1L322.1 357Q318.6 359.6 315.6 357.6Q313.8 353.5 313.5 348.5" fill="none" stroke="#231f20" stroke-width="1.1" />
<path d="M313.5 348.5C314 355 316 362 319.2 368C320.5 370.3 322 372.3 323.6 374" fill="none" stroke="#231f20" stroke-width="1.1" />
<path d="M279.2 360.7L296.2 370.7L298.8 359.9L308.1 365.1L311 378.4L318.5 382.6" fill="none" stroke="#231f20" stroke-width="1.1" />
<path d="M304.2 305.5V311.5C304.6 315.8 308.2 319.3 314.2 320.4C320.7 321.3 327.5 319.8 332.5 317" fill="#fff" stroke="#231f20" stroke-width="1.1" />
<path d="M254.7 183.9L303.6 155.9L380.7 200.3L380.7 290.3L336.2 314.6L336 228Z" fill="#fff" stroke="none" stroke-width="1.1" />
<path d="M254.7 183.9L300.3 157.9Q303.6 155.9 307 157.9L377.6 198.5Q380.7 200.3 380.7 203.8V290.3L336.4 314.7" fill="none" stroke="#231f20" stroke-width="1.1" />
<path d="M251.5 189C251.5 184.2 256.6 181.3 260.8 183.6L331.6 224.4C334.2 225.9 335.8 228.6 335.8 231.6L335.8 312.3C335.8 316.8 330.9 319.6 327 317.5L255.7 278C253.1 276.6 251.5 273.9 251.5 270.9Z" fill="#fff" stroke="#231f20" stroke-width="1.1" />
<path d="M269.2 176.7L295 191.3L320 205.9L342.6 219.6Q345.1 221.1 345.1 224V310.5" fill="none" stroke="#231f20" stroke-width="1.1" />
<path d="M345.6 221.3L379.6 201.8" fill="none" stroke="#231f20" stroke-width="1.1" />
<ellipse cx="260.7" cy="193.2" rx="4" ry="5.9" transform="rotate(-24 260.7 193.2)" fill="#fff" stroke="#231f20" stroke-width="1"/>
<ellipse cx="327" cy="231.4" rx="4" ry="5.9" transform="rotate(-24 327 231.4)" fill="#fff" stroke="#231f20" stroke-width="1"/>
<ellipse cx="260.4" cy="271.6" rx="4" ry="5.9" transform="rotate(-24 260.4 271.6)" fill="#fff" stroke="#231f20" stroke-width="1"/>
<ellipse cx="327" cy="309.6" rx="4" ry="5.9" transform="rotate(-24 327 309.6)" fill="#fff" stroke="#231f20" stroke-width="1"/>
<path d="M273.7 258.4C273.7 256.2 276.1 254.7 278.1 255.8L311.4 274.3C313 275.2 314 276.9 314 278.8L314 296.9C314 299.1 311.6 300.6 309.6 299.5L276.3 281.3C274.7 280.4 273.7 278.8 273.7 276.9Z" fill="none" stroke="#231f20" stroke-width="1.1" />
<path d="M354.6 223.7L367 216.3L371.6 219.7L378.6 227.3L372.3 243L360.6 250.6L348.3 240Z" fill="#fff" stroke="#231f20" stroke-width="1.1" />
<path d="M371.6 219.7L359.3 226.3L352.6 241M352.6 241L360.6 250.6" fill="none" stroke="#231f20" stroke-width="1.1" />
<path d="M354.6 223.7L359.3 226.3M348.3 240L352.6 241" fill="none" stroke="#231f20" stroke-width="1.5" />
<path d="M348.3 240L360.6 250.6" fill="none" stroke="#231f20" stroke-width="1.6" />
<path d="M352.2 258.6L364.4 251.6L368.5 254.1L370 261L356 286L351.1 283.7L346 274.5Z" fill="#fff" stroke="#231f20" stroke-width="1.1" />
<path d="M356.3 261.9L367.8 254.9M356.3 261.9L350 277.1M350 277.1L354.5 284.6" fill="none" stroke="#231f20" stroke-width="1.1" />
<path d="M352.2 258.6L356.3 261.9M346 274.5L350 277.1" fill="none" stroke="#231f20" stroke-width="1.5" />
<path d="M361.5 289.3C362.4 289.6 364.8 290.8 366.7 291.1C368.6 291.4 370.6 291.6 372.6 291.3C374.6 291 376.8 290.3 378.5 289.3C380.2 288.3 381.7 287 382.9 285.2C384.1 283.4 385.3 280.7 385.9 278.5C386.5 276.3 386.7 274 386.6 271.9C386.5 269.8 385.9 267.7 385.2 266C384.5 264.3 383.3 263 382.2 261.9C381.1 260.8 379.7 259.9 378.5 259.3C377.3 258.7 375.9 258.3 374.8 258.2C373.7 258.1 372.5 258.5 371.8 258.9C371.1 259.3 370.6 260.5 370.4 260.8" fill="#fff" stroke="#231f20" stroke-width="1.1" />
<path d="M371.8 257.3C375 257 379 258.5 383.3 262.6" fill="none" stroke="#231f20" stroke-width="1.1" />
<path d="M354.8 270.4L365.2 258.2L370.4 260.8L360.75 274.85V288.5L354.8 285.2Z" fill="#fff" stroke="#231f20" stroke-width="1.1" />
<path d="M354.8 270.4L360.75 274.85M360.75 288.5L364 289.8" fill="none" stroke="#231f20" stroke-width="1.1" />
<path d="M370.6 368.3C377 373.5 384 379.5 392 384.2" fill="none" stroke="#231f20" stroke-width="1.1" />
<clipPath id="cpb"><path d="M330 350L440 350L440 411.9 L412.5 396 L412.5 430 L330 430Z"/></clipPath>
<path d="M349 378C350.8 379 356.7 381.9 360 383.8C363.3 385.7 365.9 387.5 368.9 389.2C371.8 390.9 374.8 392.9 377.7 394C380.6 395.1 383.6 395.8 386.6 396C389.6 396.2 392.5 395.9 395.5 395.4C398.5 394.9 402 393.6 404.4 393.2C406.8 392.8 407.9 392.6 409.7 392.7C411.5 392.8 413.3 393.3 415 394C416.7 394.7 418.7 395.8 420 397.1C421.3 398.4 422.2 400.2 422.8 401.8C423.4 403.4 423.6 406.1 423.8 407" fill="none" stroke="#0f62b0" stroke-width="8.8" stroke-linecap="butt" clip-path="url(#cpb)"/>
<path d="M424.5 402.9L440 411.9" fill="none" stroke="#231f20" stroke-width="1.1" />
<path d="M339.1 379.6C339.6 378.6 340.6 375.3 342.2 373.4C343.8 371.5 346.2 369.5 348.4 368.1C350.6 366.7 353.1 365.9 355.5 365C357.9 364.1 360.2 362.9 362.6 362.7C365 362.5 368.5 363.5 369.7 363.6L371 364.4V379.6L368.8 381.4L366.1 380.5V371.2C365.4 371.3 363.5 371.2 361.7 371.6C359.9 372 357.6 372.8 355.5 373.8C353.4 374.8 350.9 376.2 349.3 377.8C347.7 379.4 346.3 382.3 345.7 383.2V394.2L341.7 396.5L339.1 394.7Z" fill="#fff" stroke="#231f20" stroke-width="1.1" />
<path d="M341.7 380.5C342.2 379.6 343.4 376.9 344.8 375.2C346.2 373.5 348.1 371.7 350.2 370.3C352.3 368.9 354.9 367.6 357.3 366.7C359.7 365.8 362.1 365.4 364.4 365C366.7 364.6 369.9 364.5 371 364.4" fill="none" stroke="#231f20" stroke-width="1.1" />
<path d="M341.7 380.5V396.5" fill="none" stroke="#231f20" stroke-width="1.1" />
<path d="M368.8 381.4V372" fill="none" stroke="#231f20" stroke-width="1.1" />
<path d="M378.3 279.4C381.8 281.3 392.6 287.4 399 291C405.4 294.6 412.1 298.5 416.5 300.8C420.9 303.1 422.7 304.1 425.5 304.6C428.3 305.1 431.2 305.2 433.5 303.8C435.8 302.4 437.5 299.9 439.5 296.5C441.5 293.1 443.5 287.7 445.5 283.5C447.5 279.3 449.3 274.9 451.5 271.5C453.7 268.1 455.8 265.6 458.5 263.3C461.2 261.1 465.1 259.8 468 258C470.9 256.2 473.6 255.1 476 252.8C478.4 250.6 480.6 247.8 482.3 244.5C484 241.2 485.4 237.1 486.3 233C487.2 228.9 487.5 224.7 487.8 220C488.1 215.3 487.9 207.5 487.9 205L487.95 1" fill="none" stroke="#231f20" stroke-width="9.6" stroke-linecap="butt"/>
<path d="M378.3 279.4C381.8 281.3 392.6 287.4 399 291C405.4 294.6 412.1 298.5 416.5 300.8C420.9 303.1 422.7 304.1 425.5 304.6C428.3 305.1 431.2 305.2 433.5 303.8C435.8 302.4 437.5 299.9 439.5 296.5C441.5 293.1 443.5 287.7 445.5 283.5C447.5 279.3 449.3 274.9 451.5 271.5C453.7 268.1 455.8 265.6 458.5 263.3C461.2 261.1 465.1 259.8 468 258C470.9 256.2 473.6 255.1 476 252.8C478.4 250.6 480.6 247.8 482.3 244.5C484 241.2 485.4 237.1 486.3 233C487.2 228.9 487.5 224.7 487.8 220C488.1 215.3 487.9 207.5 487.9 205L487.95 2" fill="none" stroke="#d0d2d3" stroke-width="7.8" stroke-linecap="butt"/>
<circle cx="378.6" cy="279.6" r="4.4" fill="#d0d2d3" stroke="#231f20" stroke-width="0.9"/>
<path d="M378.3 279.4L399 291" fill="none" stroke="#d0d2d3" stroke-width="7.8" stroke-linecap="butt"/>
<path d="M477.3 110.4C480 111 481.5 112.5 482.6 115C484 118.5 485.5 120.8 489.5 121C492.5 121.1 494 120.3 496 121C498 121.7 499.5 123 501.1 124" fill="none" stroke="#231f20" stroke-width="2.5" />
<path d="M476.5 212.6C479.5 213.3 481.2 214.8 482.4 217.5C483.8 221 485.5 223.3 489.5 223.5C492.5 223.6 494 222.4 496 223C498 223.6 499 224.6 500.3 225.6" fill="none" stroke="#231f20" stroke-width="2.5" />
<path d="M416.7 522.5L440 535.5L433 550L408.5 536.2Z" fill="#231f20" stroke="#231f20" stroke-width="0.6" />
<clipPath id="cp1"><path d="M505 135H530V154H521.3V162H516.1V154H505Z"/></clipPath>
<rect x="501.1" y="131.9" width="32.9" height="32.9" fill="#ec1c24"/>
<text class="lbl" x="518" y="157.7" clip-path="url(#cp1)">1</text>
<rect x="278" y="116" width="32.9" height="32.9" fill="#ec1c24"/>
<text class="lbl" x="294.1" y="141.8">2</text>
<rect x="155" y="339" width="32.9" height="32.9" fill="#ec1c24"/>
<text class="lbl" x="171.1" y="364.8">3</text>
<rect x="410" y="482" width="32.9" height="32.9" fill="#ec1c24"/>
<text class="lbl" x="426.1" y="507.8">4</text>
</svg>
<ol>
<li style="top:614.10px"><b style="left:4.40px;letter-spacing:-1.60px">1.</b><span style="left:23.80px;letter-spacing:-0.390px">Кабель управления</span></li>
<li style="top:653.30px"><b style="left:5.20px;letter-spacing:-0.50px">2.</b><span style="left:28.10px;letter-spacing:-0.300px">Соединительная коробка РТВ 403</span></li>
<li style="top:692.90px"><b style="left:5.20px;letter-spacing:-0.50px">3.</b><span style="left:27.20px;letter-spacing:-0.470px">Кабель датчика монтажный</span></li>
<li style="top:732.30px"><b style="left:4.90px;letter-spacing:-0.50px">4.</b><span style="left:27.70px;letter-spacing:-0.240px">Датчик температуры</span></li>
</ol>
</body>
</html>
